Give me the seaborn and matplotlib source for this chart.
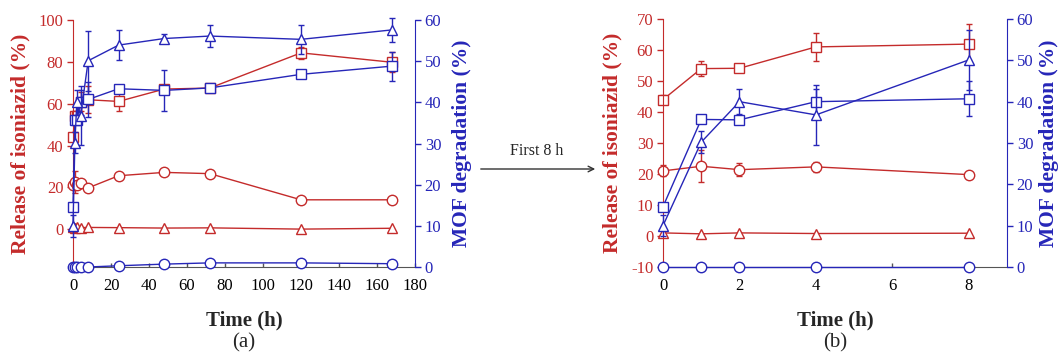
import numpy as np
import matplotlib
matplotlib.use("Agg")
import matplotlib.pyplot as plt
import seaborn as sns

# sampling times (h); panel (b) is the first 5 points
time_h = [0, 1, 2, 4, 8, 24, 48, 72, 120, 168]

# release of isoniazid (%), left axis (red)
rel_square = [44, 54, 54.1, 61, 61.9, 61.1, 67, 67.5, 84.3, 79.8]
rel_square_err = [1.5, 2.3, 1.1, 4.5, 6.5, 4.8, 1.0, 1.0, 2.8, 4.8]
rel_circle = [21, 22.5, 21.4, 22.3, 19.8, 25.6, 27.2, 26.6, 14.1, 14.1]
rel_circle_err = [1.8, 5.2, 2.0, 1.5, 0.3, 0.5, 0.5, 0.5, 0.5, 0.5]
rel_triangle = [1.0, 0.7, 1.0, 0.8, 0.9, 0.8, 0.6, 0.7, 0.1, 0.5]

# MOF degradation (%), right axis (blue)
deg_square = [14.6, 35.7, 35.6, 40.0, 40.7, 43.3, 42.9, 43.5, 46.8, 48.8]
deg_square_err = [1.0, 0.5, 0.5, 3.0, 4.2, 0.6, 5.0, 0.8, 0.8, 3.5]
deg_triangle = [10.0, 30.2, 40.0, 36.8, 50.1, 53.9, 55.5, 56.1, 55.3, 57.6]
deg_triangle_err = [2.6, 2.6, 3.0, 7.2, 7.3, 3.7, 1.1, 2.6, 3.6, 3.0]
deg_circle = [0, 0, 0, 0, 0, 0.3, 0.7, 1.0, 1.0, 0.8]

RED = "#C42B2B"
BLUE = "#2626B8"
GREY = "#555555"

sns.set_style("white")
plt.rcParams["font.family"] = ["Liberation Serif", "DejaVu Serif"]
plt.rcParams["axes.unicode_minus"] = False


def draw_series(ax, t, y, err, marker, color):
    if err is not None:
        ax.errorbar(t, y, yerr=err, fmt="none", ecolor=color, elinewidth=1,
                    capsize=2.5, capthick=1, clip_on=False)
    sns.lineplot(x=t, y=y, ax=ax, color=color, marker=marker, markersize=7.5,
                 markerfacecolor="white", markeredgecolor=color,
                 markeredgewidth=1, linewidth=1, clip_on=False)


def panel(rect, n, xlim, xticks, ylim_left, yticks_left, rpad):
    ax = fig.add_axes(rect)
    ax2 = ax.twinx()
    t = time_h[:n]
    draw_series(ax, t, rel_square[:n], rel_square_err[:n], "s", RED)
    draw_series(ax, t, rel_circle[:n], rel_circle_err[:n], "o", RED)
    draw_series(ax, t, rel_triangle[:n], None, "^", RED)
    draw_series(ax2, t, deg_square[:n], deg_square_err[:n], "s", BLUE)
    draw_series(ax2, t, deg_triangle[:n], deg_triangle_err[:n], "^", BLUE)
    draw_series(ax2, t, deg_circle[:n], None, "o", BLUE)

    ax.set_xlim(*xlim)
    ax.set_xticks(xticks)
    ax.set_ylim(*ylim_left)
    ax.set_yticks(yticks_left)
    ax2.set_ylim(0, 60)
    ax2.set_yticks(range(0, 61, 10))

    for a in (ax, ax2):
        a.spines["top"].set_visible(False)
    ax.spines["right"].set_visible(False)
    ax2.spines["left"].set_visible(False)
    ax2.spines["bottom"].set_visible(False)
    ax.spines["left"].set_color(RED)
    ax2.spines["right"].set_color(BLUE)
    ax.spines["bottom"].set_color(GREY)

    ax.tick_params(axis="y", colors=RED, direction="out", length=4, width=1,
                   labelsize=12, pad=3, left=True)
    ax2.tick_params(axis="y", colors=BLUE, direction="out", length=4, width=1,
                    labelsize=12, pad=3, right=True)
    ax.tick_params(axis="x", colors=GREY, labelcolor="black", direction="in",
                   length=3, width=1, labelsize=12, pad=8, bottom=True)

    ax.set_ylabel("Release of isoniazid (%)", color=RED, fontsize=15.5,
                  fontweight="bold", labelpad=6)
    ax2.set_ylabel("MOF degradation (%)", color=BLUE, fontsize=15.5,
                   fontweight="bold", labelpad=rpad)
    ax.set_xlabel("Time (h)", fontsize=15, fontweight="bold", labelpad=12)
    return ax


fig = plt.figure(figsize=(10.62, 3.54), dpi=100)
ax_a = panel([73 / 1062, 87 / 354, 342 / 1062, 247 / 354], 10, (0, 180),
             range(0, 181, 20), (-18, 100), range(0, 101, 20), 8)
ax_b = panel([663 / 1062, 87 / 354, 344 / 1062, 248 / 354], 5, (0, 9),
             range(0, 9, 2), (-10, 70), range(-10, 71, 10), 4)

fig.text(244 / 1062, 1 - 343 / 354, "(a)", ha="center", va="center", fontsize=15)
fig.text(835 / 1062, 1 - 343 / 354, "(b)", ha="center", va="center", fontsize=15)

fig.text(537 / 1062, 1 - 151 / 354, "First 8 h", ha="center", va="center",
         fontsize=11.5)
ax_a.annotate("", xy=(598 / 1062, 1 - 169 / 354), xytext=(478 / 1062, 1 - 169 / 354),
              xycoords="figure fraction", textcoords="figure fraction",
              arrowprops=dict(arrowstyle="->", color="#333333", lw=1))

fig.savefig("out.png", dpi=100)
